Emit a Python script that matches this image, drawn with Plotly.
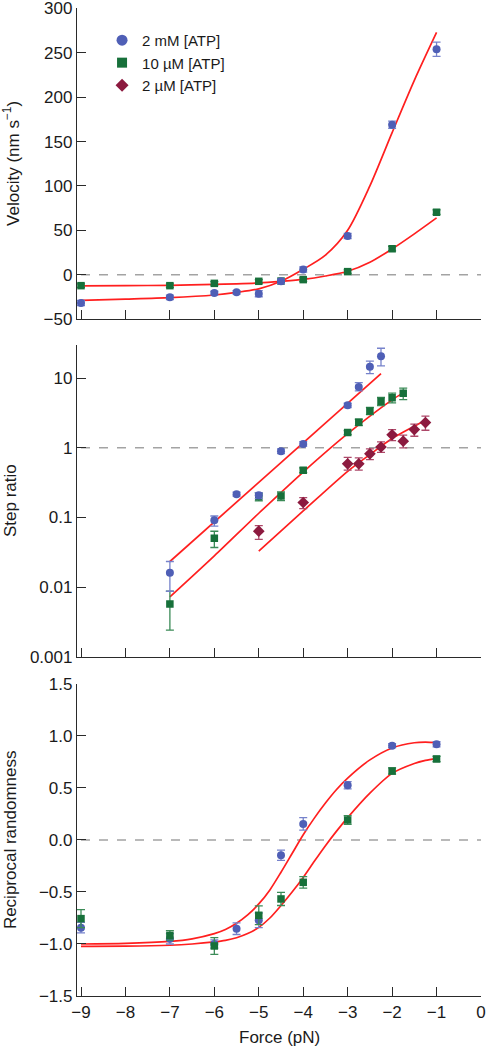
import plotly.graph_objects as go

# ---------------- data ----------------
force_ticks = [-9, -8, -7, -6, -5, -4, -3, -2, -1, 0]

# Panel A: velocity (nm/s)
vel_force_2mM = [-9, -7, -6, -5.5, -5, -4.5, -4, -3, -2, -1]
vel_2mM = [-32, -25.6, -20.7, -19.9, -21.4, -7.5, 5.8, 43.6, 169, 254]
vel_2mM_err = [3, 2.5, 2, 2, 3.5, 2.5, 3, 3, 4, 8]

vel_force_10uM = [-9, -7, -6, -5, -4.5, -4, -3, -2, -1]
vel_10uM = [-12.4, -12.4, -9.8, -7.5, -7.2, -5.6, 3.4, 29.3, 70.4]
vel_10uM_err = [2, 2, 2, 2, 2, 2, 2, 2.5, 2.5]

vel_fit_force = [-9, -8, -7, -6, -5.5, -5, -4.5, -4, -3.5, -3, -2.5, -2, -1.5, -1]
vel_fit_2mM = [-28.9, -27.5, -25.9, -22.9, -20, -16, -7.5, 6, 22, 50, 100, 160, 219, 273]
vel_fit_10uM = [-12.6, -12.4, -12, -11, -10.3, -9.3, -7.5, -5.3, -1.5, 3.8, 14, 29, 46, 64]

# Panel B: step ratio
sr_force_2mM = [-7, -6, -5.5, -5, -4.5, -4, -3, -2.75, -2.5, -2.25]
sr_2mM = [0.016, 0.091, 0.216, 0.209, 0.895, 1.14, 4.1, 7.5, 14.6, 20.8]
sr_2mM_up = [0.0073, 0.014, 0.015, 0.019, 0.072, 0.093, 0.28, 1.18, 3.0, 6.2]
sr_2mM_dn = [0.0073, 0.016, 0.014, 0.022, 0.066, 0.083, 0.30, 0.91, 2.9, 5.7]

sr_force_10uM = [-7, -6, -5, -4.5, -4, -3, -2.75, -2.5, -2.25, -2, -1.75]
sr_10uM = [0.0057, 0.0504, 0.198, 0.204, 0.478, 1.66, 2.34, 3.4, 4.68, 5.23, 6.1]
sr_10uM_up = [0.003, 0.013, 0.028, 0.029, 0.038, 0.11, 0.24, 0.40, 0.61, 0.87, 1.1]
sr_10uM_dn = [0.0033, 0.0134, 0.025, 0.029, 0.036, 0.11, 0.25, 0.39, 0.62, 0.80, 1.15]

sr_force_2uM = [-5, -4, -3, -2.75, -2.5, -2.25, -2, -1.75, -1.5, -1.25]
sr_2uM = [0.0635, 0.164, 0.589, 0.589, 0.82, 1.03, 1.54, 1.25, 1.83, 2.31]
sr_2uM_up = [0.013, 0.029, 0.14, 0.13, 0.15, 0.19, 0.29, 0.27, 0.36, 0.54]
sr_2uM_dn = [0.015, 0.030, 0.11, 0.11, 0.14, 0.17, 0.27, 0.25, 0.36, 0.52]

sr_fit_force_2mM = [-7, -2.25]
sr_fit_2mM = [0.0233, 11.7]
sr_fit_force_10uM = [-7, -6, -5, -4, -3, -2, -1.75]
sr_fit_10uM = [0.0072, 0.028, 0.115, 0.45, 1.6, 4.9, 6.17]
sr_fit_force_2uM = [-5, -4, -3, -2.5, -2, -1.5, -1.25]
sr_fit_2uM = [0.0328, 0.124, 0.46, 0.80, 1.36, 2.05, 2.5]

# Panel C: reciprocal randomness
rr_force_2mM = [-9, -7, -6, -5.5, -5, -4.5, -4, -3, -2, -1]
rr_2mM = [-0.843, -0.95, -1.0, -0.853, -0.772, -0.147, 0.154, 0.526, 0.907, 0.92]
rr_2mM_err = [0.05, 0.05, 0.04, 0.056, 0.07, 0.05, 0.06, 0.035, 0.02, 0.025]

rr_force_10uM = [-9, -7, -6, -5, -4.5, -4, -3, -2, -1]
rr_10uM = [-0.756, -0.917, -1.019, -0.724, -0.567, -0.407, 0.192, 0.663, 0.779]
rr_10uM_err = [0.087, 0.045, 0.08, 0.09, 0.063, 0.055, 0.042, 0.03, 0.025]

rr_fit_force = [-9, -8, -7, -6.5, -6, -5.75, -5.5, -5.25, -5, -4.75, -4.5, -4.25, -4,
                -3.75, -3.5, -3.25, -3, -2.5, -2, -1.5, -1.25, -1]
rr_fit_2mM = [-1.0, -0.995, -0.975, -0.95, -0.90, -0.86, -0.80, -0.72, -0.615, -0.48, -0.31,
              -0.13, 0.05, 0.21, 0.355, 0.485, 0.595, 0.77, 0.885, 0.935, 0.94, 0.935]
rr_fit_10uM = [-1.022, -1.021, -1.012, -1.0, -0.98, -0.965, -0.94, -0.90, -0.84, -0.75, -0.63,
               -0.50, -0.36, -0.205, -0.055, 0.085, 0.215, 0.45, 0.64, 0.735, 0.765, 0.785]

legend_names = ["2 mM [ATP]", "10 \u00b5M [ATP]", "2 \u00b5M [ATP]"]

# ---------------- style ----------------
FONT = "Liberation Sans, Arial, Helvetica, sans-serif"
BLUE, BLUE_ERR = "#4f5fb6", "#7682cb"
GREEN, GREEN_ERR = "#17703a", "#3b8b57"
DRED, DRED_ERR = "#8c1a3f", "#ad4869"
FIT = "#ff1f1f"
AX = "#2a2a2a"

fig = go.Figure()


def fit(x, y, xa, ya, shape="spline"):
    fig.add_trace(go.Scatter(x=x, y=y, xaxis=xa, yaxis=ya, mode="lines",
                             line=dict(color=FIT, width=1.7, shape=shape, smoothing=0.8),
                             showlegend=False, hoverinfo="skip"))


def pts(x, y, xa, ya, color, ecolor, symbol, size, err=None, up=None, dn=None):
    if err is not None:
        ey = dict(type="data", array=err, color=ecolor, thickness=1.3, width=4)
    else:
        ey = dict(type="data", symmetric=False, array=up, arrayminus=dn,
                  color=ecolor, thickness=1.3, width=4)
    fig.add_trace(go.Scatter(x=x, y=y, xaxis=xa, yaxis=ya, mode="markers",
                             marker=dict(color=color, symbol=symbol, size=size, line=dict(width=0)),
                             error_y=ey, showlegend=False))


# Panel A
fit(vel_fit_force, vel_fit_2mM, "x", "y")
fit(vel_fit_force, vel_fit_10uM, "x", "y")
pts(vel_force_10uM, vel_10uM, "x", "y", GREEN, GREEN_ERR, "square", 7.5, err=vel_10uM_err)
pts(vel_force_2mM, vel_2mM, "x", "y", BLUE, BLUE_ERR, "circle", 8, err=vel_2mM_err)

# Panel B
fit(sr_fit_force_2mM, sr_fit_2mM, "x2", "y2", shape="linear")
fit(sr_fit_force_10uM, sr_fit_10uM, "x2", "y2")
fit(sr_fit_force_2uM, sr_fit_2uM, "x2", "y2")
pts(sr_force_10uM, sr_10uM, "x2", "y2", GREEN, GREEN_ERR, "square", 7.5, up=sr_10uM_up, dn=sr_10uM_dn)
pts(sr_force_2mM, sr_2mM, "x2", "y2", BLUE, BLUE_ERR, "circle", 8, up=sr_2mM_up, dn=sr_2mM_dn)
pts(sr_force_2uM, sr_2uM, "x2", "y2", DRED, DRED_ERR, "diamond", 9, up=sr_2uM_up, dn=sr_2uM_dn)

# Panel C
fit(rr_fit_force, rr_fit_2mM, "x3", "y3")
fit(rr_fit_force, rr_fit_10uM, "x3", "y3")
pts(rr_force_2mM, rr_2mM, "x3", "y3", BLUE, BLUE_ERR, "circle", 8, err=rr_2mM_err)
pts(rr_force_10uM, rr_10uM, "x3", "y3", GREEN, GREEN_ERR, "square", 7.5, err=rr_10uM_err)

# legend-only traces
for name, color, symbol, size in zip(legend_names, [BLUE, GREEN, DRED],
                                     ["circle", "square", "diamond"], [11, 10, 10]):
    fig.add_trace(go.Scatter(x=[None], y=[None], mode="markers", name=name,
                             marker=dict(color=color, symbol=symbol, size=size),
                             xaxis="x", yaxis="y", showlegend=True))

axis_common = dict(showline=True, linecolor=AX, linewidth=1.3, ticks="inside",
                   ticklen=9, tickwidth=1.3, tickcolor=AX, showgrid=False,
                   zeroline=False, automargin=False, ticklabeloverflow="allow",
                   tickfont=dict(family=FONT, size=17, color="#1a1a1a"))

xr = [-9.09, 0]
dom_a = [0.6797, 0.9915]
dom_b = [0.3407, 0.6536]
dom_c = [0.0, 0.3133]

fig.update_layout(
    width=486, height=1050,
    margin=dict(l=77, r=5, t=0, b=54),
    paper_bgcolor="white", plot_bgcolor="white",
    font=dict(family=FONT, color="#1a1a1a"),
    xaxis=dict(axis_common, range=xr, tickvals=force_ticks, showticklabels=False,
               anchor="y", domain=[0, 1]),
    yaxis=dict(axis_common, range=[-50, 300], tickvals=[-50, 0, 50, 100, 150, 200, 250, 300],
               anchor="x", domain=dom_a),
    xaxis2=dict(axis_common, range=xr, tickvals=force_ticks, showticklabels=False,
                anchor="y2", domain=[0, 1]),
    yaxis2=dict(axis_common, type="log", range=[-3, 1.478],
                tickvals=[0.001, 0.01, 0.1, 1, 10], ticktext=["0.001", "0.01", "0.1", "1", "10"],
                anchor="x2", domain=dom_b),
    xaxis3=dict(axis_common, range=xr, tickvals=force_ticks, anchor="y3", domain=[0, 1]),
    yaxis3=dict(axis_common, range=[-1.5, 1.5], tickvals=[-1.5, -1, -0.5, 0, 0.5, 1, 1.5],
                ticktext=["\u22121.5", "\u22121.0", "\u22120.5", "0.0", "0.5", "1.0", "1.5"],
                anchor="x3", domain=dom_c),
    showlegend=True,
    legend=dict(x=0.062, y=0.976, xanchor="left", yanchor="top",
                font=dict(family=FONT, size=15, color="#1a1a1a"),
                bgcolor="rgba(0,0,0,0)", itemsizing="trace", tracegroupgap=0),
)

# dashed reference lines
for xa, ya, yv in [("x", "y", 0), ("x2", "y2", 1), ("x3", "y3", 0)]:
    fig.add_shape(type="line", xref=xa, yref=ya, x0=-9.0, x1=0, y0=yv, y1=yv,
                  line=dict(color="#a3a3a3", width=1.5, dash="dash"), layer="below")

# axis titles as annotations
ttl = dict(family=FONT, size=17, color="#1a1a1a")
fig.add_annotation(text="Velocity (nm s<sup>\u22121</sup>)", xref="paper", yref="paper",
                   x=-0.163, y=sum(dom_a) / 2, textangle=-90, showarrow=False, font=ttl,
                   xanchor="center", yanchor="middle")
fig.add_annotation(text="Step ratio", xref="paper", yref="paper",
                   x=-0.163, y=sum(dom_b) / 2, textangle=-90, showarrow=False, font=ttl,
                   xanchor="center", yanchor="middle")
fig.add_annotation(text="Reciprocal randomness", xref="paper", yref="paper",
                   x=-0.163, y=sum(dom_c) / 2, textangle=-90, showarrow=False, font=ttl,
                   xanchor="center", yanchor="middle")
fig.add_annotation(text="Force (pN)", xref="paper", yref="paper",
                   x=0.5, y=-0.042, showarrow=False, font=ttl,
                   xanchor="center", yanchor="middle")

fig.write_html("out.html", config={"displayModeBar": False},
               post_script="document.body.style.margin='0';document.body.style.padding='0';")
